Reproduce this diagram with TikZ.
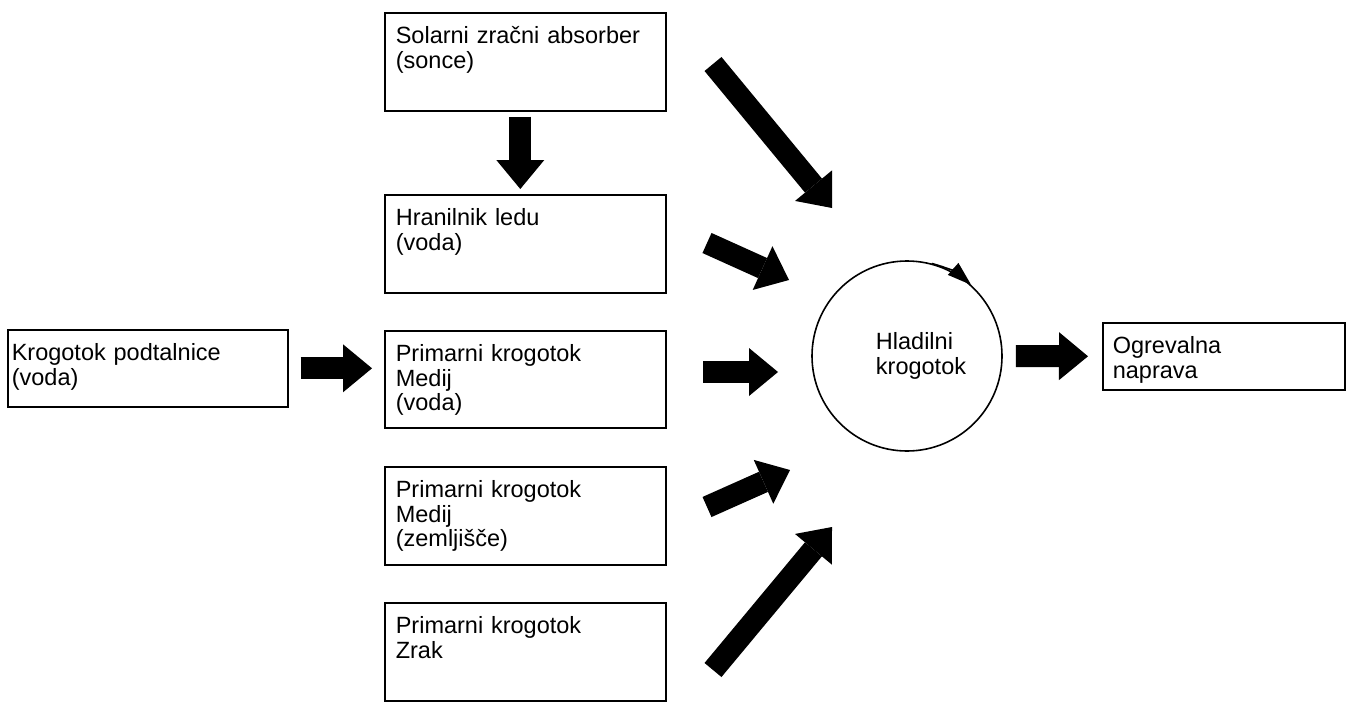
\documentclass[tikz,border=0pt]{standalone}
\usepackage{fontspec}
\setmainfont{Liberation Sans}
\usetikzlibrary{arrows.meta}
\tikzstyle{flow} = [line width=22pt, -{Triangle[width=48pt,length=29pt,line width=0pt]}]

\begin{document}
\begin{tikzpicture}[x=1pt, y=-1pt, font=\fontsize{23.5}{24.5}\selectfont,
  unit/.style = {draw, line width=1.6pt, anchor=north west, align=left, inner xsep=11pt, inner ysep=0pt, text height=31pt}]
\useasboundingbox (0,0) rectangle (1349,720);
\node[unit, text width=259pt, text depth=67pt] (sol) at (384,12) {Solarni zračni absorber\\(sonce)};
\node[unit, text width=259pt, text depth=67pt] (hran) at (384,194) {Hranilnik ledu\\(voda)};
\node[unit, text width=259pt, text depth=66pt] (primv) at (384,330) {Primarni krogotok\\Medij\\(voda)};
\node[unit, text width=259pt, text depth=67pt] (primz) at (384,466) {Primarni krogotok\\Medij\\(zemljišče)};
\node[unit, text width=259pt, text depth=67pt] (primzr) at (384,602) {Primarni krogotok\\Zrak};
\node[unit, inner xsep=4pt, text width=272pt, text depth=46pt] (kpod) at (7,329) {Krogotok podtalnice\\(voda)};
\node[unit, inner xsep=10pt, text width=222pt, text depth=36pt] (ogr) at (1102,322) {Ogrevalna\\naprava};
\node[draw, circle, line width=1.6pt, minimum size=190pt, label={[align=left, xshift=14pt]center:Hladilni\\krogotok}] (hl) at (907,356) {};

% free ends of the slanted arrows
\coordinate (s1) at (713,64);  \coordinate (e1) at (832,208);
\coordinate (s2) at (707,243); \coordinate (e2) at (789,280);
\coordinate (s3) at (703,372); \coordinate (e3) at (778,372);
\coordinate (s4) at (707,507); \coordinate (e4) at (790,470);
\coordinate (s5) at (713,670); \coordinate (e5) at (832,527);

\draw[flow] ([xshift=-5pt, yshift=-5pt]sol.south) -- ([xshift=-5pt, yshift=5pt]hran.north);
\draw[flow] ([xshift=12pt]kpod.east) -- ([xshift=-12pt]primv.west |- kpod.east);
\draw[flow] (s1) -- (e1);
\draw[flow] (s2) -- (e2);
\draw[flow] (s3) -- (e3);
\draw[flow] (s4) -- (e4);
\draw[flow] (s5) -- (e5);
\draw[flow] ([xshift=13pt]hl.east) -- ([xshift=-14pt]ogr.west);
\draw[line width=1.6pt, -{Triangle[length=24pt,width=16pt,line width=0pt]}] (hl.75) to[bend left=13] (hl.48);
\end{tikzpicture}
\end{document}
